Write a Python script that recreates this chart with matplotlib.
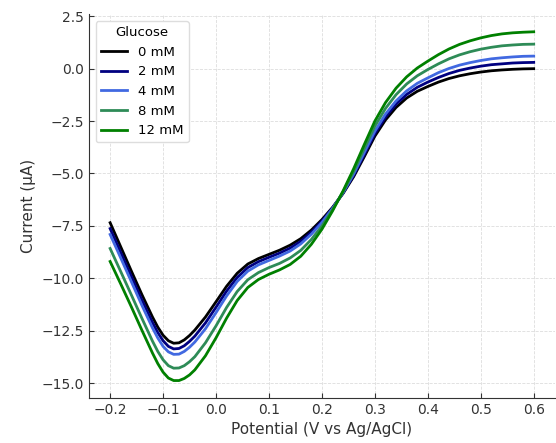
import matplotlib
matplotlib.use("Agg")
import matplotlib.pyplot as plt

# potential, V vs Ag/AgCl (denser around the reduction peak)
potential = [-0.20, -0.18, -0.16, -0.14, -0.12, -0.11, -0.10, -0.09, -0.08,
             -0.07, -0.06, -0.05, -0.04, -0.02, 0.00, 0.02, 0.04, 0.06, 0.08,
             0.10, 0.12, 0.14, 0.16, 0.18, 0.20, 0.22, 0.24, 0.26, 0.28, 0.30,
             0.32, 0.34, 0.36, 0.38, 0.40, 0.42, 0.44, 0.46, 0.48, 0.50, 0.52,
             0.54, 0.56, 0.58, 0.60]

i_0mM = [-7.35, -8.50, -9.65, -10.78, -11.85, -12.33, -12.72, -12.98, -13.10,
         -13.08, -12.94, -12.73, -12.47, -11.85, -11.12, -10.38, -9.76, -9.32,
         -9.06, -8.86, -8.66, -8.42, -8.11, -7.70, -7.20, -6.62, -5.95, -5.15,
         -4.20, -3.22, -2.45, -1.85, -1.40, -1.08, -0.85, -0.64, -0.47, -0.34,
         -0.24, -0.16, -0.10, -0.06, -0.03, -0.01, 0.00]
i_2mM = [-7.63, -8.77, -9.91, -11.04, -12.11, -12.59, -12.98, -13.25, -13.37,
         -13.35, -13.22, -13.01, -12.76, -12.13, -11.38, -10.61, -9.96, -9.49,
         -9.21, -9.00, -8.80, -8.56, -8.24, -7.80, -7.27, -6.65, -5.93, -5.09,
         -4.10, -3.10, -2.31, -1.69, -1.23, -0.89, -0.64, -0.42, -0.23, -0.08,
         0.03, 0.12, 0.19, 0.23, 0.27, 0.29, 0.30]
i_4mM = [-7.91, -9.03, -10.16, -11.29, -12.37, -12.85, -13.25, -13.51, -13.63,
         -13.62, -13.49, -13.29, -13.04, -12.41, -11.64, -10.84, -10.15, -9.66,
         -9.36, -9.15, -8.94, -8.70, -8.36, -7.90, -7.34, -6.67, -5.91, -5.02,
         -4.00, -2.98, -2.17, -1.54, -1.06, -0.70, -0.44, -0.19, 0.01, 0.17,
         0.29, 0.39, 0.47, 0.52, 0.56, 0.59, 0.60]
i_8mM = [-8.58, -9.68, -10.79, -11.91, -13.00, -13.49, -13.89, -14.17, -14.29,
         -14.28, -14.17, -13.98, -13.74, -13.08, -12.27, -11.39, -10.63, -10.07,
         -9.73, -9.49, -9.29, -9.03, -8.67, -8.15, -7.51, -6.73, -5.87, -4.90,
         -3.81, -2.74, -1.90, -1.24, -0.73, -0.34, -0.04, 0.23, 0.47, 0.66,
         0.81, 0.93, 1.02, 1.09, 1.13, 1.16, 1.17]
i_12mM = [-9.20, -10.27, -11.36, -12.48, -13.57, -14.07, -14.48, -14.76, -14.88,
          -14.88, -14.78, -14.61, -14.37, -13.70, -12.84, -11.90, -11.06, -10.44,
          -10.06, -9.81, -9.60, -9.34, -8.95, -8.38, -7.66, -6.79, -5.83, -4.77,
          -3.62, -2.50, -1.62, -0.93, -0.39, 0.03, 0.36, 0.67, 0.94, 1.16,
          1.33, 1.47, 1.58, 1.66, 1.71, 1.74, 1.76]

labels = ["0 mM", "2 mM", "4 mM", "8 mM", "12 mM"]
series = [i_0mM, i_2mM, i_4mM, i_8mM, i_12mM]
colors = ["black", "navy", "royalblue", "seagreen", "green"]

fig = plt.figure(figsize=(5.56, 4.43), dpi=100)
ax = fig.add_axes([0.160, 0.1016, 0.838, 0.866])

for lab, vals, col in zip(labels, series, colors):
    ax.plot(potential, vals, color=col, lw=2, label=lab)

ax.set_xticks([-0.2, -0.1, 0.0, 0.1, 0.2, 0.3, 0.4, 0.5, 0.6])
ax.set_xlabel("Potential (V vs Ag/AgCl)", fontsize=11, color="#333333")
ax.set_ylabel("Current (\u00b5A)", fontsize=11, color="#333333")
ax.tick_params(direction="in", colors="#333333", labelsize=10)
ax.grid(True, ls="--", lw=0.6, color="#dddddd")
for side in ["top", "right"]:
    ax.spines[side].set_visible(False)
for side in ["left", "bottom"]:
    ax.spines[side].set_color("#333333")

leg = ax.legend(title="Glucose", loc="upper left", fontsize=9.5, title_fontsize=9.5,
                frameon=True, framealpha=1)
leg.get_frame().set_edgecolor("#dddddd")

fig.savefig("out.png", dpi=100)
